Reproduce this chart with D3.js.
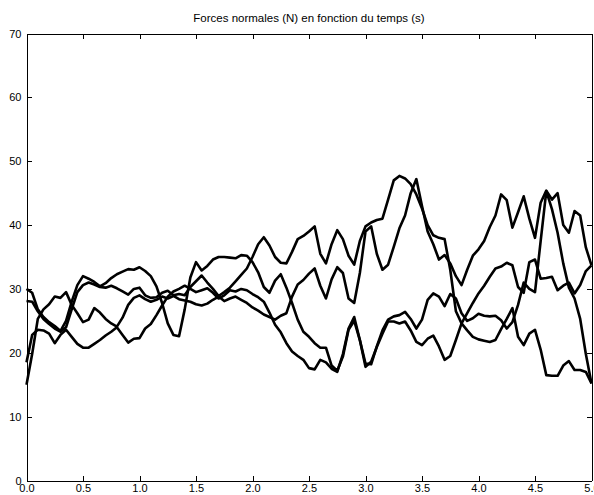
<!DOCTYPE html>
<html>
<head>
<meta charset="utf-8">
<script src="https://cdn.jsdelivr.net/npm/d3@7"></script>
<style>
  body { margin: 0; background: #fff; }
  text { font-family: "Liberation Sans", Arial, Helvetica, sans-serif; fill: #000; }
  .axis path, .axis line { stroke: #000; stroke-width: 1; shape-rendering: crispEdges; }
  .axis text { font-size: 11px; }
</style>
</head>
<body>
<div id="chart"></div>
<script>
// data (time in s, normal force in N)
var time = [0, 0.05, 0.1, 0.15, 0.2, 0.25, 0.3, 0.35, 0.4, 0.45,
  0.5, 0.55, 0.6, 0.65, 0.7, 0.75, 0.8, 0.85, 0.9, 0.95,
  1, 1.05, 1.1, 1.15, 1.2, 1.25, 1.3, 1.35, 1.4, 1.45,
  1.5, 1.55, 1.6, 1.65, 1.7, 1.75, 1.8, 1.85, 1.9, 1.95,
  2, 2.05, 2.1, 2.15, 2.2, 2.25, 2.3, 2.35, 2.4, 2.45,
  2.5, 2.55, 2.6, 2.65, 2.7, 2.75, 2.8, 2.85, 2.9, 2.95,
  3, 3.05, 3.1, 3.15, 3.2, 3.25, 3.3, 3.35, 3.4, 3.45,
  3.5, 3.55, 3.6, 3.65, 3.7, 3.75, 3.8, 3.85, 3.9, 3.95,
  4, 4.05, 4.1, 4.15, 4.2, 4.25, 4.3, 4.35, 4.4, 4.45,
  4.5, 4.55, 4.6, 4.65, 4.7, 4.75, 4.8, 4.85, 4.9, 4.95, 5];

var force1 = [30.0, 29.4, 26.8, 25.6, 24.8, 24.2, 23.4, 25.0, 28.0, 30.6,
  32.0, 31.6, 31.1, 30.4, 30.9, 31.7, 32.3, 32.7, 33.1, 33.0,
  33.4, 32.8, 32.0, 30.4, 27.8, 24.6, 22.8, 22.6, 26.8, 31.8,
  34.2, 32.9, 33.6, 34.6, 35.0, 35.0, 34.9, 34.8, 35.3, 35.2,
  34.2, 32.6, 30.3, 29.4, 31.3, 32.3, 30.2, 27.8, 25.2, 23.3,
  22.5, 21.5, 20.8, 20.8, 18.0, 17.2, 19.4, 23.6, 25.0, 22.0,
  18.3, 18.2, 21.0, 23.5, 25.2, 25.7, 25.9, 26.4, 25.3, 23.8,
  25.2, 28.3, 29.3, 28.8, 27.3, 29.2, 28.5, 26.2, 25.0, 25.4,
  26.1, 25.8, 25.7, 25.8, 25.1, 23.8, 24.8, 27.5, 31.0, 30.0,
  29.5, 37.5, 45.3, 42.5, 38.8, 34.0, 30.2, 28.5, 25.3, 19.8, 15.2];

var force2 = [28.1, 28.0, 26.5, 25.3, 24.5, 23.8, 23.3, 24.0, 26.8, 29.5,
  30.6, 31.0, 30.7, 30.3, 30.2, 30.5, 30.1, 29.6, 29.1, 30.0,
  30.2, 29.0, 28.6, 28.7, 29.4, 29.7, 29.0, 29.2, 29.0, 30.3,
  31.2, 32.1, 31.0, 30.0, 28.9, 29.5, 30.2, 31.2, 32.2, 33.2,
  35.0, 37.0, 38.1, 36.8, 35.0, 34.1, 34.0, 35.8, 37.8, 38.3,
  39.0, 39.8, 35.5, 34.0, 37.0, 39.2, 37.8, 35.2, 33.8, 37.5,
  39.8, 40.4, 40.8, 41.0, 44.0, 47.0, 47.7, 47.3, 46.4, 44.8,
  42.6, 40.0, 38.4, 38.0, 37.8, 33.0, 26.5, 24.6, 23.5, 22.5,
  22.1, 21.9, 21.7, 22.0, 23.7, 25.3, 27.0, 22.5, 21.2, 23.0,
  23.6, 20.5, 16.5, 16.4, 16.4, 18.0, 18.7, 17.3, 17.3, 17.0, 15.2];

var force3 = [18.5, 22.8, 23.6, 23.5, 23.0, 21.5, 22.8, 23.6, 22.5, 21.4,
  20.8, 20.8, 21.4, 22.0, 22.7, 23.3, 24.0, 22.8, 21.6, 22.2,
  22.3, 23.8, 24.5, 25.9, 27.4, 28.8, 29.6, 30.0, 30.5, 30.0,
  29.5, 29.8, 30.1, 29.4, 28.5, 29.0, 29.8, 29.6, 30.0, 29.8,
  29.2, 28.7, 28.0, 26.3, 24.4, 23.2, 21.5, 20.2, 19.5, 18.9,
  17.6, 17.4, 18.9, 18.5, 17.5, 17.0, 19.8, 23.8, 25.6, 22.0,
  17.8, 18.6, 20.9, 23.0, 24.9, 24.9, 24.6, 24.9, 23.5, 21.7,
  21.2, 22.2, 22.7, 21.0, 18.9, 19.5, 22.0, 24.6, 26.2, 27.8,
  29.3, 30.5, 31.9, 33.2, 33.5, 34.1, 33.7, 30.3, 29.4, 34.2,
  34.6, 31.6, 31.7, 31.9, 29.8, 30.5, 31.0, 29.3, 30.6, 32.8, 33.7];

var force4 = [15.0, 19.8, 25.3, 26.8, 27.6, 28.8, 28.6, 29.5, 27.5, 26.2,
  24.8, 25.2, 27.0, 26.3, 25.3, 24.6, 24.1, 25.5, 27.5, 28.6,
  29.0, 28.4, 28.0, 28.3, 28.8, 28.5, 28.9, 28.4, 28.2, 28.0,
  27.6, 27.4, 27.7, 28.3, 28.8, 28.1, 28.5, 28.8, 28.3, 27.8,
  27.1, 26.6, 26.0, 25.6, 25.2, 25.8, 26.2, 28.8, 30.7, 31.4,
  32.4, 33.2, 30.5, 28.5, 31.5, 33.4, 32.5, 28.5, 27.8, 32.5,
  39.0, 39.8, 35.5, 33.0, 33.8, 36.6, 39.5, 41.5, 45.0, 47.2,
  43.0, 39.0, 37.0, 34.6, 35.3, 34.0, 32.0, 30.6, 33.0, 35.2,
  36.2, 37.5, 39.7, 41.5, 44.8, 43.9, 39.6, 42.0, 44.5, 41.0,
  38.0, 43.5, 45.4, 44.0, 45.0, 40.0, 38.8, 42.2, 41.5, 36.5, 33.7];

var xTicks = [0, 0.5, 1, 1.5, 2, 2.5, 3, 3.5, 4, 4.5, 5];
var yTicks = [0, 10, 20, 30, 40, 50, 60, 70];
var titleText = "Forces normales (N) en fonction du temps (s)";

//set height, width, and margins
var svgWidth = 594;
var svgHeight = 495;

var margin = {
  top: 33.5,
  right: 2.5,
  bottom: 14.5,
  left: 26.5
};

var width = svgWidth - margin.left - margin.right;
var height = svgHeight - margin.top - margin.bottom;

var svg = d3.select("#chart")
  .append("svg")
  .attr("width", svgWidth)
  .attr("height", svgHeight);

svg.append("rect")
  .attr("width", svgWidth)
  .attr("height", svgHeight)
  .attr("fill", "#fff");

var chartGroup = svg.append("g")
  .attr("transform", `translate(${margin.left}, ${margin.top})`);

// scales
var xScale = d3.scaleLinear().domain([0, 5]).range([0, width]);
var yScale = d3.scaleLinear().domain([0, 70]).range([height, 0]);

// matlab style box: ticks inward on all four sides
chartGroup.append("g")
  .attr("class", "axis")
  .attr("transform", `translate(0, ${height})`)
  .call(d3.axisBottom(xScale).tickValues(xTicks).tickSizeInner(-5).tickSizeOuter(0).tickPadding(4));

chartGroup.append("g")
  .attr("class", "axis")
  .call(d3.axisLeft(yScale).tickValues(yTicks).tickSizeInner(-5).tickSizeOuter(0).tickPadding(5));

chartGroup.append("g")
  .attr("class", "axis")
  .call(d3.axisTop(xScale).tickValues(xTicks).tickSizeInner(-5).tickSizeOuter(0).tickFormat(""));

chartGroup.append("g")
  .attr("class", "axis")
  .attr("transform", `translate(${width}, 0)`)
  .call(d3.axisRight(yScale).tickValues(yTicks).tickSizeInner(-5).tickSizeOuter(0).tickFormat(""));

// the four force curves
var series = [force1, force2, force3, force4];

var line = d3.line()
  .x((d, i) => xScale(time[i]))
  .y(d => yScale(d));

chartGroup.selectAll(".force")
  .data(series)
  .enter()
  .append("path")
  .attr("class", "force")
  .attr("d", line)
  .attr("fill", "none")
  .attr("stroke", "#000")
  .attr("stroke-width", 2.6)
  .attr("stroke-linejoin", "round");

// title
svg.append("text")
  .attr("x", margin.left + width / 2)
  .attr("y", 22)
  .attr("text-anchor", "middle")
  .attr("font-size", "11.5px")
  .text(titleText);
</script>
</body>
</html>
